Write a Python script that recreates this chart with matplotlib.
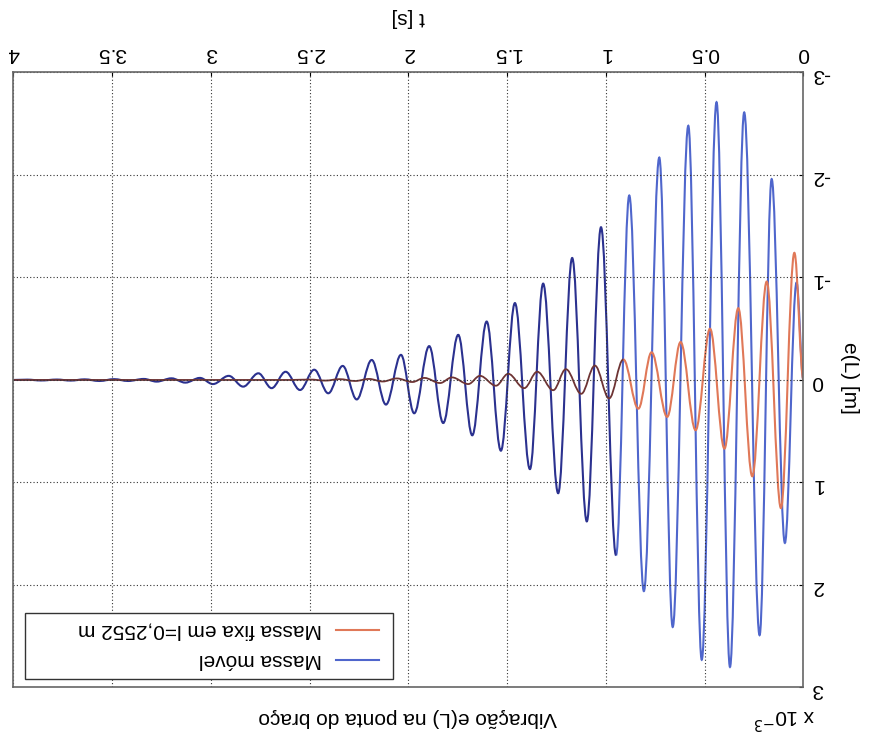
import matplotlib
matplotlib.use('Agg')
import matplotlib.pyplot as plt
from matplotlib.path import Path
from matplotlib.patches import PathPatch, Rectangle
from matplotlib.lines import Line2D

plt.rcParams['font.family'] = ['Liberation Sans', 'DejaVu Sans']
plt.rcParams['axes.unicode_minus'] = False

t_movel = [0.000, 0.035, 0.094, 0.161, 0.222, 0.300, 0.372, 0.440, 0.515, 0.583,
           0.662, 0.730, 0.808, 0.882, 0.949, 1.025, 1.097, 1.171, 1.242, 1.318,
           1.385, 1.461, 1.532, 1.604, 1.677, 1.748, 1.824, 1.895, 1.971, 2.038,
           2.114, 2.186, 2.262, 2.333, 2.406, 2.477, 2.549, 2.622, 2.693, 2.760,
           2.837, 2.910, 2.990, 3.056, 3.130, 3.200, 3.275, 3.340, 3.420, 3.490,
           3.565, 3.640, 3.710, 3.780, 3.860, 3.930, 4.000]
e_movel = [0.00, -0.95, 1.59, -1.96, 2.49, -2.61, 2.80, -2.71, 2.73, -2.48,
           2.41, -2.17, 2.06, -1.80, 1.71, -1.49, 1.38, -1.19, 1.105, -0.94,
           0.87, -0.75, 0.69, -0.57, 0.54, -0.44, 0.42, -0.33, 0.325, -0.245,
           0.24, -0.195, 0.19, -0.137, 0.13, -0.10, 0.098, -0.08, 0.08, -0.065,
           0.065, -0.04, 0.04, -0.02, 0.026, -0.016, 0.016, -0.01, 0.01, -0.008,
           0.01, -0.006, 0.006, -0.004, 0.005, -0.003, 0.0]

t_fixa = [0.000, 0.046, 0.114, 0.186, 0.259, 0.330, 0.400, 0.473, 0.546, 0.622,
          0.690, 0.769, 0.836, 0.912, 0.984, 1.056, 1.125, 1.203, 1.267, 1.348,
          1.414, 1.495, 1.557, 1.638, 1.697, 1.780, 1.840, 1.920, 1.980, 2.060,
          2.130, 2.200, 2.270, 2.350, 2.420, 2.500, 2.600, 4.000]
e_fixa = [0.00, -1.24, 1.25, -0.96, 0.94, -0.70, 0.67, -0.50, 0.49, -0.37,
          0.36, -0.27, 0.28, -0.20, 0.18, -0.14, 0.135, -0.105, 0.10, -0.08,
          0.08, -0.06, 0.056, -0.04, 0.04, -0.025, 0.03, -0.02, 0.02, -0.015,
          0.015, -0.01, 0.01, -0.008, 0.006, -0.004, 0.0, 0.0]

x_ticks = [0, 0.5, 1, 1.5, 2, 2.5, 3, 3.5, 4]
y_ticks = [-3, -2, -1, 0, 1, 2, 3]


def smooth(ts, vs, k=0.36):
    # bezier through the extrema, flat tangent at each one
    verts = [(ts[0], vs[0])]
    codes = [Path.MOVETO]
    for i in range(1, len(ts)):
        dt = ts[i] - ts[i - 1]
        verts += [(ts[i - 1] + k * dt, vs[i - 1]), (ts[i] - k * dt, vs[i]), (ts[i], vs[i])]
        codes += [Path.CURVE4] * 3
    return Path(verts, codes)


fig = plt.figure(figsize=(8.7, 7.37), dpi=100)
ax = fig.add_axes([0.0155, 0.0672, 0.908, 0.8345])

# the scan is upside down: flip both axes and turn all text by 180
ax.set_xlim(4, 0)
ax.set_ylim(3, -3)
ax.xaxis.tick_top()
ax.yaxis.tick_right()
ax.set_xticks(x_ticks)
ax.set_xticklabels(['%g' % v for v in x_ticks])
ax.set_yticks(y_ticks)
ax.set_yticklabels(['%g' % v for v in y_ticks])
ax.tick_params(axis='x', labelrotation=180, labelsize=15, direction='in', length=3, pad=7)
ax.tick_params(axis='y', labelrotation=180, labelsize=15, direction='in', length=3, pad=6)
ax.grid(True, color='#333333', linestyle=(0, (1, 2)), linewidth=0.8)
for s in ax.spines.values():
    s.set_color('#666666')
    s.set_linewidth(1.2)

k1 = t_movel.index(0.949)
ax.add_patch(PathPatch(smooth(t_movel[:k1 + 1], e_movel[:k1 + 1]), fill=False,
                       edgecolor='#4f66cc', lw=1.5))
ax.add_patch(PathPatch(smooth(t_movel[k1:], e_movel[k1:]), fill=False,
                       edgecolor='#2b318f', lw=1.5))
k2 = t_fixa.index(0.912)
ax.add_patch(PathPatch(smooth(t_fixa[:k2 + 1], e_fixa[:k2 + 1]), fill=False,
                       edgecolor='#e07858', lw=1.5))
ax.add_patch(PathPatch(smooth(t_fixa[k2:], e_fixa[k2:]), fill=False,
                       edgecolor='#6e3434', lw=1.3))

# legend drawn by hand so it can be upside down too
ax.add_patch(Rectangle((0.0146, 0.0138), 0.4658, 0.1073, transform=ax.transAxes,
                       facecolor='white', edgecolor='#333333', lw=1.0, zorder=5))
ax.add_line(Line2D([0.408, 0.4627], [0.0935, 0.0935], transform=ax.transAxes,
                   color='#e07858', lw=1.5, zorder=6))
ax.add_line(Line2D([0.408, 0.4627], [0.0447, 0.0447], transform=ax.transAxes,
                   color='#4f66cc', lw=1.5, zorder=6))
ax.text(0.3905, 0.0935, 'Massa fixa em l=0,2552 m', transform=ax.transAxes,
        rotation=180, ha='right', va='center', fontsize=15, zorder=7)
ax.text(0.3905, 0.0447, 'Massa móvel', transform=ax.transAxes,
        rotation=180, ha='right', va='center', fontsize=15, zorder=7)

fig.text(408 / 870, 1 - 18 / 737, 't [s]', rotation=180, ha='center', va='center', fontsize=15)
fig.text(850 / 870, 1 - 378 / 737, 'e(L) [m]', rotation=270, ha='center', va='center', fontsize=15)
fig.text(408 / 870, 1 - 717 / 737, 'Vibração e(L) na ponta do braço', rotation=180,
         ha='center', va='center', fontsize=15)
fig.text(784 / 870, 1 - 717 / 737, 'x 10$^{-3}$', rotation=180, ha='center', va='center',
         fontsize=15)

fig.savefig('out.png', dpi=100)
